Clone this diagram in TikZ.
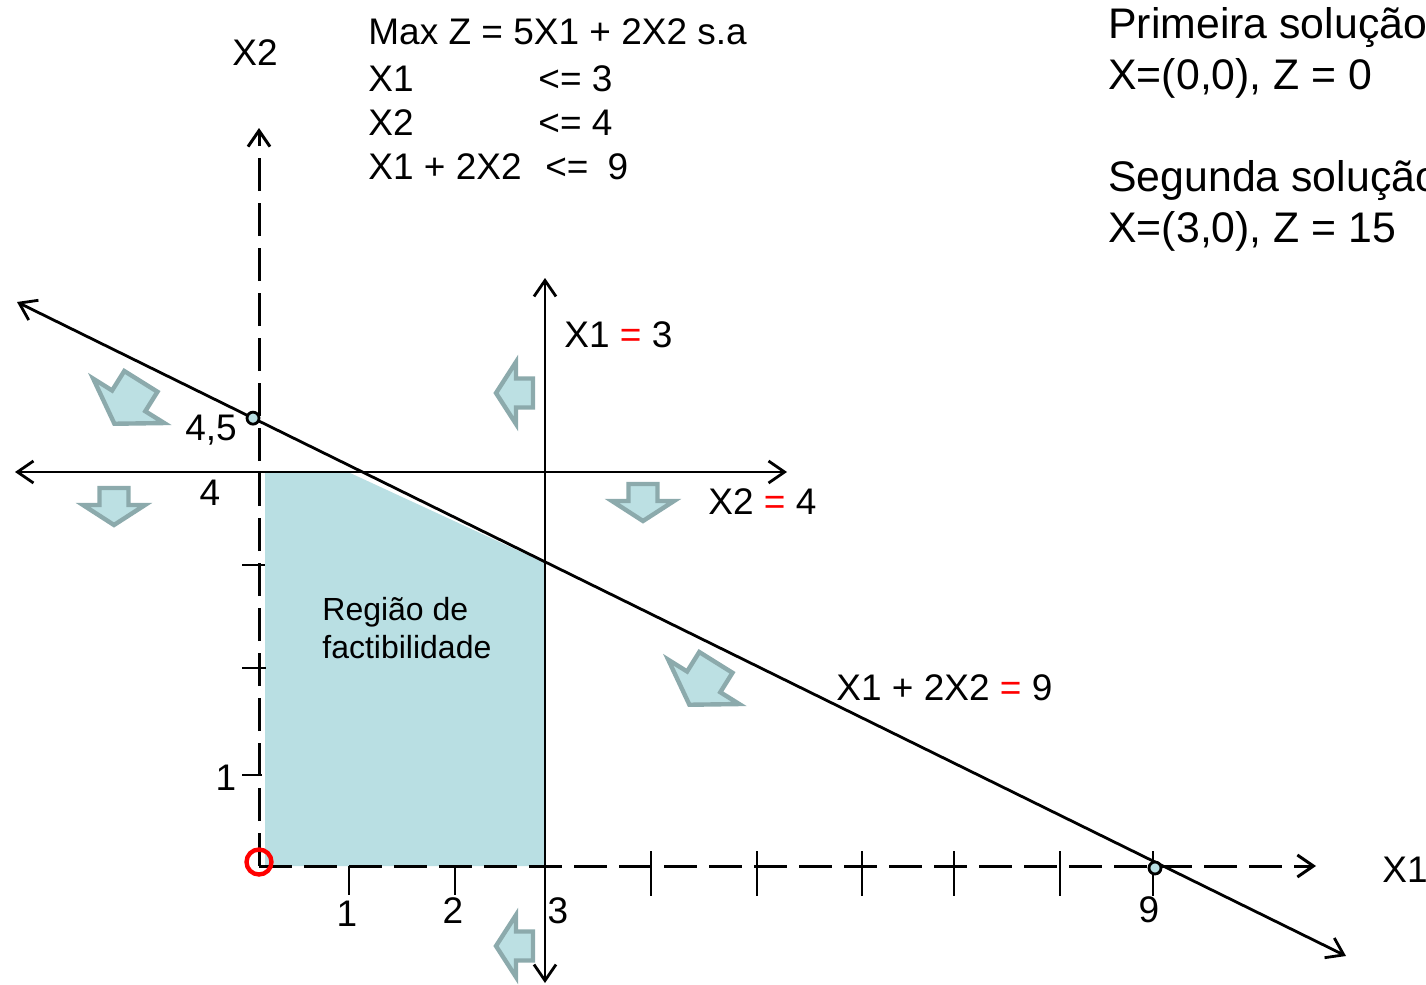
\documentclass[tikz,border=0pt]{standalone}
\usepackage{fontspec}
\setmainfont{Liberation Sans}
\usepackage{xcolor}
\usetikzlibrary{arrows.meta,positioning,calc}
\definecolor{lpRegion}{HTML}{B9DFE3}
\definecolor{lpArrowFill}{HTML}{BCE0E3}
\definecolor{lpArrowEdge}{HTML}{8CAAAC}
\definecolor{lpInk}{HTML}{000000}

\tikzset{
  axisline/.style={draw=lpInk,line width=1.5pt,dash pattern=on 16.5pt off 6pt},
  limitline/.style={draw=lpInk,line width=1.4pt},
  tickmark/.style={draw=lpInk,line width=1.3pt},
  lbl/.style={inner sep=0pt,anchor=base west,text=lpInk,font=\fontsize{18.5}{22}\selectfont},
  tlbl/.style={lbl,anchor=base},
  sollbl/.style={inner sep=0pt,anchor=base west,font=\fontsize{21.4}{25}\selectfont},
  reglbl/.style={inner sep=0pt,anchor=base west,font=\fontsize{16}{19}\selectfont},
  dotmark/.style={circle,draw=lpInk,fill=lpRegion,line width=1.4pt,minimum size=6pt,inner sep=0pt},
  origmark/.style={circle,draw=red,line width=2.2pt,minimum size=12.5pt,inner sep=0pt},
  blockarrow/.pic={
    \draw[draw=lpArrowEdge,fill=lpArrowFill,line width=2.2pt,line join=miter]
      (-18,14.5) -- (-1,14.5) -- (-1,31) -- (19,0) -- (-1,-31) -- (-1,-14.5) -- (-18,-14.5) -- cycle;
  }
}

\begin{document}
\begin{tikzpicture}[x=0.5pt,y=-0.5pt,>={Straight Barb[length=8pt,width=11pt]}]
  \useasboundingbox (0,0) rectangle (1426,985);

  % feasible region
  \fill[lpRegion] (265,472) -- (348,472) -- (545,563) -- (545,866) -- (265,866) -- cycle;

  % axes
  \coordinate (O) at (259,866);
  \coordinate (xend) at (1316,866);
  \coordinate (yend) at (259,128);
  \draw[axisline,->] (O) -- (xend);
  \draw[axisline,->] (O) -- (yend);

  \foreach \x in {349,455}
    \draw[tickmark] (\x,866) -- (\x,895);
  \foreach \x in {651,757,862,954,1060,1153}
    \draw[tickmark] (\x,851) -- (\x,896);
  \foreach \y/\e in {775/262,668/266,565/265}
    \draw[tickmark] (242,\y) -- (\e,\y);

  % constraint lines
  \coordinate (c1lo) at (545,983);
  \coordinate (c1hi) at (545,278);
  \coordinate (c2lt) at (15,472);
  \coordinate (c2rt) at (787,472);
  \coordinate (c3lt) at (17,302);
  \coordinate (c3rt) at (1346,956);
  \draw[limitline,<->] (c1lo) -- (c1hi);
  \draw[limitline,<->] (c2lt) -- (c2rt);
  \draw[limitline,<->] (c3lt) -- (c3rt);

  \node[dotmark] (m45) at ($(c3lt)!0.1776!(c3rt)$) {};
  \node[dotmark] (m9) at (1155,868) {};
  \node[origmark] (orig) at (259,862) {};

  % direction arrows
  \pic[rotate=238,scale=1.35] at (128,402) {blockarrow};
  \pic[rotate=238,scale=1.35] at (703,683) {blockarrow};
  \pic[rotate=-90] at (643,502) {blockarrow};
  \pic[rotate=-90] at (114,506) {blockarrow};
  \pic[rotate=180] at (515,393) {blockarrow};
  \pic[rotate=180] at (515,946) {blockarrow};

  % labels
  \node[tlbl] (ax2) at (255,65) {X2};
  \node[lbl] (ax1) at (1382,882) {X1};
  \node[tlbl] (ty1) at (226,790) {1};
  \node[tlbl] (ty4) at (210,505) {4};
  \node[tlbl] (ty45) at (211,440) {4,5};
  \node[tlbl] (tx1) at (347,926) {1};
  \node[tlbl] (tx2) at (453,923) {2};
  \node[tlbl] (tx3) at (558,923) {3};
  \node[tlbl] (tx9) at (1149,922) {9};

  \node[lbl] (lc1) at (564,347) {X1 \textcolor{red}{=} 3};
  \node[lbl] (lc2) at (708,514) {X2 \textcolor{red}{=} 4};
  \node[lbl] (lc3) at (836,700) {X1 + 2X2 \textcolor{red}{=} 9};

  \node[reglbl] (rega) at (322,620) {Região de};
  \node[reglbl] (regb) at (322,658) {factibilidade};

  \node[lbl] (obj) at (368,45) {Max Z = 5X1 + 2X2 s.a};
  \node[lbl] (r1) at (368,91) {\makebox[85pt][l]{X1}<= 3};
  \node[lbl] (r2) at (368,135) {\makebox[85pt][l]{X2}<= 4};
  \node[lbl] (r3) at (368,179) {\makebox[88.5pt][l]{X1 + 2X2}<=\hspace{9.5pt}9};

  \node[sollbl] (s1a) at (1108,39) {Primeira solução};
  \node[sollbl] (s1b) at (1108,90) {X=(0,0), Z = 0};
  \node[sollbl] (s2a) at (1108,191) {Segunda solução};
  \node[sollbl] (s2b) at (1108,242) {X=(3,0), Z = 15};
\end{tikzpicture}
\end{document}
